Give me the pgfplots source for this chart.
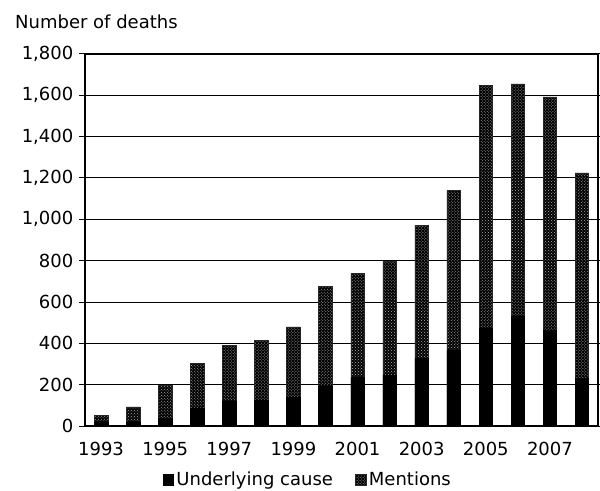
\documentclass[border=0pt]{standalone}
\usepackage{fontspec}
\setmainfont{DejaVu Sans}
\usepackage{pgfplots}
\pgfplotsset{compat=1.18}
\usetikzlibrary{patterns}
\begin{document}
\fontsize{18bp}{21bp}\selectfont
\begin{tikzpicture}
\begin{axis}[
  name=ax,
  scale only axis,
  width=513bp, height=372bp,
  xmin=-0.5, xmax=15.5,
  ymin=0, ymax=1800,
  ytick={0,200,...,1800},
  xtick={0,2,4,6,8,10,12,14},
  xticklabels={1993,1995,1997,1999,2001,2003,2005,2007},
  /pgf/number format/assume math mode=true,
  /pgf/number format/1000 sep={,},
  ymajorgrids,
  major grid style={black, line width=1bp},
  axis line style={black, line width=1.1bp},
  tick align=outside,
  ytick style={black, line width=1bp},
  major tick length=6bp,
  xtick style={draw=none},
  tick label style={font=\fontsize{18bp}{21bp}\selectfont, black},
  yticklabel style={xshift=0.5bp},
  xticklabel style={yshift=-4bp},
  ybar, bar width=13.5bp,
  bar shift=0pt,
  legend columns=2,
  reverse legend,
  legend style={draw=none, at={(0.435,-0.145)}, anchor=center,
    font=\fontsize{18bp}{21bp}\selectfont, column sep=0bp,
    nodes={inner xsep=2.5bp},
    /tikz/every even column/.append style={column sep=20bp}},
  legend image code/.code={\draw[#1] (0bp,-5.5bp) rectangle (10.5bp,5.5bp);},
]
\addplot[draw=black!85, line width=0.5bp, fill=black, postaction={pattern=crosshatch dots, pattern color=white!70!black}] coordinates {
(0,50) (1,93) (2,198) (3,303) (4,389) (5,416) (6,480) (7,674)
(8,737) (9,795) (10,972) (11,1139) (12,1648) (13,1655) (14,1593) (15,1225)};
\addplot[draw=black, line width=0.5bp, fill=black] coordinates {
(0,20) (1,20) (2,37) (3,88) (4,120) (5,125) (6,138) (7,190)
(8,235) (9,247) (10,327) (11,368) (12,473) (13,529) (14,465) (15,231)};
\legend{Mentions, Underlying cause}
\end{axis}
\node[anchor=west, font=\fontsize{18bp}{21bp}\selectfont, inner sep=0pt] at ([xshift=-70bp,yshift=32bp]ax.north west) {Number of deaths};
\pgfresetboundingbox
\path[use as bounding box] ([xshift=-85bp,yshift=-65bp]ax.south west) rectangle ([xshift=2bp,yshift=54bp]ax.north east);
\end{tikzpicture}
\end{document}
